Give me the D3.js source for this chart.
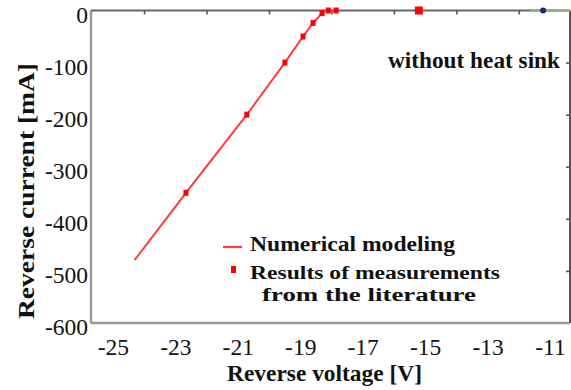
<!DOCTYPE html>
<html>
<head>
<meta charset="utf-8">
<script src="https://cdn.jsdelivr.net/npm/d3@7"></script>
<style>
  html, body { margin: 0; padding: 0; background: #fff; }
  svg { display: block; }
</style>
</head>
<body>
<svg id="chart" width="571" height="390"></svg>
<script>
// Reverse-bias characteristic of the diode, without heat sink
const voltageTicks = [-25, -23, -21, -19, -17, -15, -13, -11];
const minorVoltageTicks = [-24, -22, -20, -18, -16, -14, -12];
const currentTicks = [0, -100, -200, -300, -400, -500, -600];

// numerical model curve
const modelVoltage = [-24.3, -22.66, -20.71, -19.49, -18.91, -18.59, -18.3, -18.2, -17.8];
const modelCurrent = [-479, -350, -200, -100, -50, -24, -5, 0, 0];

// measured points (literature)
const measVoltage = [-22.66, -20.71, -19.49, -18.91, -18.59, -18.3, -18.1, -17.85];
const measCurrent = [-350, -200, -100, -50, -24, -5, 0, 0];
const measWideVoltage = [-15.2];
const measWideCurrent = [0];

// further series lying on the zero line
const blueVoltage = [-11.22];
const blueCurrent = [0];
const greenVoltage = [-11.64, -10.36];
const greenCurrent = [0, 0];

const FONT = '"Liberation Serif", "Times New Roman", Tinos, "DejaVu Serif", serif';

const svg = d3.select("#chart").attr("font-family", FONT);
const plotLeft = 91, plotRight = 570, plotTop = 10.5, plotBottom = 323;

const x = d3.scaleLinear().domain([-25.7, -10.36]).range([plotLeft, plotRight]);
const y = d3.scaleLinear().domain([-600, 0]).range([plotBottom, plotTop]);

svg.append("rect").attr("width", 571).attr("height", 390).attr("fill", "#fff");

// frame
svg.append("line").attr("x1", plotLeft).attr("x2", plotLeft).attr("y1", plotTop).attr("y2", plotBottom)
  .attr("stroke", "#9a9a9a").attr("stroke-width", 2.4);
svg.append("line").attr("x1", plotLeft).attr("x2", plotRight).attr("y1", plotBottom).attr("y2", plotBottom)
  .attr("stroke", "#9a9a9a").attr("stroke-width", 2.4);
svg.append("line").attr("x1", plotLeft).attr("x2", plotRight).attr("y1", plotTop).attr("y2", plotTop)
  .attr("stroke", "#666").attr("stroke-width", 2);
svg.append("line").attr("x1", plotRight).attr("x2", plotRight).attr("y1", plotTop).attr("y2", plotBottom)
  .attr("stroke", "#555").attr("stroke-width", 2);

// inner ticks on top and right edges
const topAxis = svg.append("g").attr("transform", `translate(0,${plotTop})`)
  .call(d3.axisTop(x).tickValues(minorVoltageTicks).tickSize(-4).tickFormat(""));
topAxis.select(".domain").remove();
topAxis.selectAll("line").attr("stroke", "#555").attr("stroke-width", 1.6);

const rightAxis = svg.append("g").attr("transform", `translate(${plotRight},0)`)
  .call(d3.axisRight(y).tickValues(currentTicks.slice(1, -1)).tickSize(-4).tickFormat(""));
rightAxis.select(".domain").remove();
rightAxis.selectAll("line").attr("stroke", "#555").attr("stroke-width", 1.6);

// tick labels (plain hyphen minus)
const plain = d => String(d);
const xAxis = svg.append("g").attr("transform", `translate(0,${plotBottom})`)
  .call(d3.axisBottom(x).tickValues(voltageTicks).tickSize(0).tickPadding(15).tickFormat(plain));
xAxis.attr("font-family", FONT).attr("font-size", 23.5);
xAxis.select(".domain").remove();
xAxis.selectAll("text").attr("fill", "#111");

const yAxis = svg.append("g").attr("transform", `translate(${plotLeft},0)`)
  .call(d3.axisLeft(y).tickValues(currentTicks).tickSize(0).tickPadding(3).tickFormat(plain));
yAxis.attr("font-family", FONT).attr("font-size", 23.5);
yAxis.select(".domain").remove();
yAxis.selectAll("text").attr("fill", "#111").attr("dy", "0.5em");

// axis titles
svg.append("text").attr("x", 324.5).attr("y", 381).attr("text-anchor", "middle")
  .attr("font-size", 24).attr("font-weight", "bold").attr("fill", "#111")
  .attr("textLength", 195).attr("lengthAdjust", "spacingAndGlyphs")
  .text("Reverse voltage [V]");
svg.append("text").attr("transform", "translate(34,191) rotate(-90)").attr("text-anchor", "middle")
  .attr("font-size", 24).attr("font-weight", "bold").attr("fill", "#111")
  .attr("textLength", 256).attr("lengthAdjust", "spacingAndGlyphs")
  .text("Reverse current [mA]");

// model line
const line = d3.line().x(d => x(d[0])).y(d => y(d[1]));
svg.append("path").datum(d3.zip(modelVoltage, modelCurrent))
  .attr("d", line).attr("fill", "none").attr("stroke", "#ff3b3b").attr("stroke-width", 2);

// other zero-line series
svg.append("path").datum(d3.zip(greenVoltage, greenCurrent))
  .attr("d", line).attr("fill", "none").attr("stroke", "#8fb37a").attr("stroke-width", 3);
svg.selectAll(".blue").data(d3.zip(blueVoltage, blueCurrent)).join("circle")
  .attr("cx", d => x(d[0])).attr("cy", d => y(d[1])).attr("r", 3).attr("fill", "#1a237e");

// measured points
svg.selectAll(".meas").data(d3.zip(measVoltage, measCurrent)).join("rect")
  .attr("x", d => x(d[0]) - 2.5).attr("y", d => y(d[1]) - 3)
  .attr("width", 5).attr("height", 6).attr("fill", "#ff0000");
svg.selectAll(".measWide").data(d3.zip(measWideVoltage, measWideCurrent)).join("rect")
  .attr("x", d => x(d[0]) - 4).attr("y", d => y(d[1]) - 4)
  .attr("width", 8).attr("height", 8).attr("fill", "#ff0000");

// annotation
svg.append("text").attr("x", 560).attr("y", 68).attr("text-anchor", "end")
  .attr("font-size", 23).attr("font-weight", "bold").attr("fill", "#111")
  .attr("textLength", 172).attr("lengthAdjust", "spacingAndGlyphs")
  .text("without heat sink");

// legend
const legend = svg.append("g").attr("font-weight", "bold").attr("fill", "#111");
legend.append("line").attr("x1", 223).attr("x2", 242).attr("y1", 247).attr("y2", 247)
  .attr("stroke", "#ff3b3b").attr("stroke-width", 2.2);
legend.append("text").attr("x", 250).attr("y", 251).attr("font-size", 22)
  .attr("textLength", 205).attr("lengthAdjust", "spacingAndGlyphs")
  .text("Numerical modeling");
legend.append("rect").attr("x", 231).attr("y", 266).attr("width", 5).attr("height", 7).attr("fill", "#ff0000");
legend.append("text").attr("x", 250).attr("y", 278.5).attr("font-size", 19.8)
  .attr("textLength", 250).attr("lengthAdjust", "spacingAndGlyphs")
  .text("Results of measurements");
legend.append("text").attr("x", 262).attr("y", 300.5).attr("font-size", 19.8)
  .attr("textLength", 214).attr("lengthAdjust", "spacingAndGlyphs")
  .text("from the literature");
</script>
</body>
</html>
